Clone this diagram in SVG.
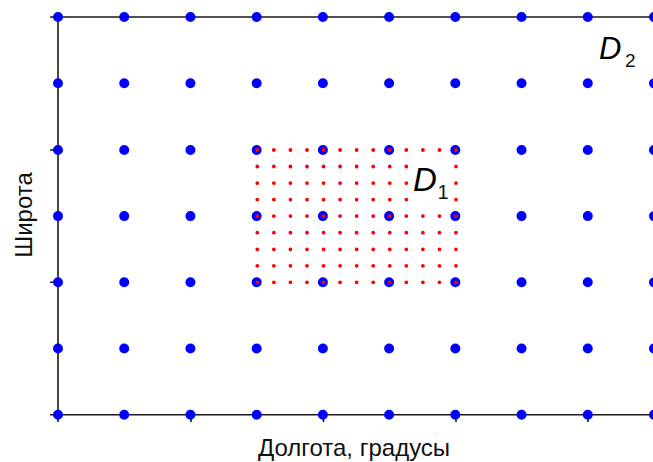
<svg xmlns="http://www.w3.org/2000/svg" width="653" height="462" viewBox="0 0 653 462">
<style>
.ax{stroke:#1a1a1a;stroke-width:1.6;fill:none}
.tk{stroke:#1a1a1a;stroke-width:1.6}
.bd{stroke:#0000ff;stroke-width:10;stroke-linecap:round;stroke-dasharray:0 66.222}
.rd{stroke:#ff0000;stroke-width:3.8;stroke-linecap:round;stroke-dasharray:0 16.558}
.lab{font-family:"Liberation Sans",Arial,sans-serif;fill:#111}
.dl{font-family:"Liberation Sans",Arial,sans-serif;font-style:italic;fill:#000}
</style>
<rect width="653" height="462" fill="#fff"/>
<g id="axes">
<path class="ax" d="M58 17H654M58 17V414.7M58 414.7H654"/>
<path class="tk" d="M50 17H58M50 150H58M50 282.3H58M50 414.7H58M58 414.7V422M191 414.7V422M323.5 414.7V422M456 414.7V422M588 414.7V422"/>
</g>
<g id="coarse-grid-D2">
<path class="bd" d="M58 17H660M58 83.3H660M58 150H660M58 216.1H660M58 282.3H660M58 348.5H660M58 414.7H660"/>
</g>
<g id="fine-grid-D1">
<path class="rd" d="M257.3 150H457M257.3 232.7H457M257.3 249.3H457M257.3 265.8H457M257.3 282.3H457"/>
<path class="rd" d="M257.3 166.5H407M257.3 183.1H407M257.3 199.6H407"/>
<path class="rd" d="M456 166.5H457M456 183.1H457M456 199.6H457"/>
<path class="rd" d="M257.3 216.1H457"/>
</g>
<g id="label-D1">
<text class="dl" x="413" y="190.5" font-size="33">D</text>
<text class="lab" x="437.5" y="199" font-size="20">1</text>
</g>
<g id="label-D2">
<text class="dl" x="599" y="58.5" font-size="31">D</text>
<text class="lab" x="625" y="66.5" font-size="19">2</text>
</g>
<g id="axis-labels">
<text class="lab" x="354" y="456" font-size="24" text-anchor="middle">Долгота, градусы</text>
<text class="lab" transform="translate(32 215) rotate(-90)" font-size="24" text-anchor="middle">Широта</text>
</g>
</svg>
